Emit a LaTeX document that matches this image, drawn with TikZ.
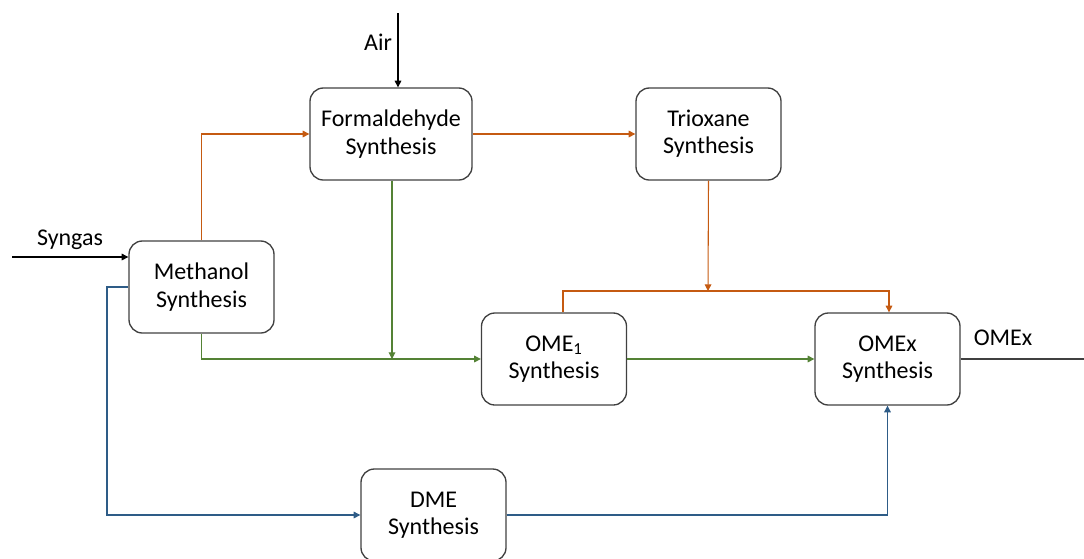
\documentclass[tikz,border=0pt]{standalone}
\usepackage{fontspec}
\setmainfont{Carlito}
\usetikzlibrary{calc,arrows.meta}

\definecolor{orng}{HTML}{C55A11}
\definecolor{grn}{HTML}{548235}
\definecolor{blu}{HTML}{2E5C87}

\tikzset{
  box/.style={draw=black!75, line width=1pt, rounded corners=10pt, align=center,
    minimum width=108.75pt, minimum height=69pt, inner sep=2pt,
    font=\fontsize{18}{20.5}\selectfont},
  lbl/.style={font=\fontsize{18}{20.5}\selectfont},
  flow/.style={line width=0.8pt, -{Triangle[length=5pt,width=5pt]}}
}

\begin{document}
\begin{tikzpicture}[x=0.75pt, y=-0.75pt]
  \useasboundingbox (0,0) rectangle (1084,558);
  \node[box, minimum width=121.5pt] (form) at (391,134) {Formaldehyde\\Synthesis};
  \node[box] (triox) at (708.5,134) {Trioxane\\Synthesis};
  \node[box] (meth) at (201.5,287) {Methanol\\Synthesis};
  \node[box] (ome1) at (554,359) {OME\textsubscript{1}\\Synthesis};
  \node[box] (omex) at (887.5,359) {OMEx\\Synthesis};
  \node[box] (dme) at (433.5,515) {DME\\Synthesis};
  % feeds and product
  \coordinate (airin) at (398,13);
  \coordinate (synin) at (12,257);
  \coordinate (out) at (1084,359);
  \node[lbl] (air) at (378,42) {Air};
  \node[lbl] (syn) at (70,240) {Syngas};
  \node[lbl] (omexout) at (1003,338) {OMEx};
  \draw[flow, black] (airin) -- (airin |- form.north);
  \draw[flow, black] (synin) -- (synin -| meth.west);
  \draw[line width=0.8pt, black!75] (omex.east) -- (out);
  % methanol to formaldehyde and trioxane
  \draw[flow, orng] (meth.north) |- (form.west);
  \draw[flow, orng] (form.east) -- (triox.west);
  \coordinate (tri) at (708,291);
  \coordinate (o1) at (563,291);
  \coordinate (ox) at (889,291);
  \draw[flow, orng] (triox.south) -- (tri);
  \draw[flow, orng] (o1 |- ome1.north) -- (o1) -- (ox) -- (ox |- omex.north);
  % OME1 route
  \coordinate (fm) at (392,359);
  \draw[flow, grn] (meth.south) |- (ome1.west);
  \draw[flow, grn] (form.south -| fm) -- (fm);
  \draw[flow, grn] (ome1.east) -- (omex.west);
  % DME route
  \coordinate (bl) at (107,287);
  \draw[flow, blu] (meth.west) -- (bl) |- (dme.west);
  \draw[flow, blu] (dme.east) -| (omex.south);
\end{tikzpicture}
\end{document}
